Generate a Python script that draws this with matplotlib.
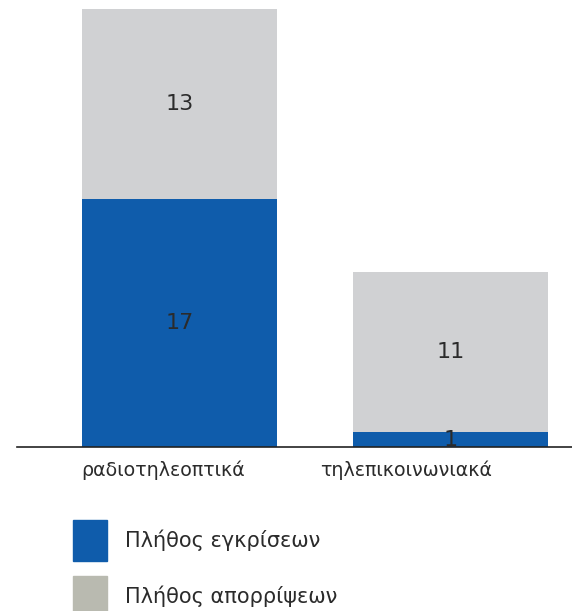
import matplotlib
matplotlib.use('Agg')
import matplotlib.pyplot as plt
import matplotlib.patches as mpatches
from matplotlib.transforms import ScaledTranslation

# Данные
categories = ['ραδιοτηλεοπτικά', 'τηλεπικοινωνιακά']
approved = [17, 1]
rejected = [13, 11]
series_names = ['Πλήθος εγκρίσεων', 'Πλήθος απορρίψεων']

blue = '#0f5cab'
grey = '#d0d1d3'
legend_grey = '#b9bab0'
text_col = '#2b2b2b'

fig = plt.figure(figsize=(5.72, 6.11), dpi=100)
ax = fig.add_axes([17 / 572, 164 / 611, 555 / 572, 438 / 611])

x = range(len(categories))
ax.bar(x, approved, width=0.72, color=blue)
ax.bar(x, rejected, width=0.72, bottom=approved, color=grey)

# Подписи значений
for i in x:
    ax.text(i, approved[i] / 2, str(approved[i]), ha='center', va='center',
            fontsize=16, color=text_col)
    ax.text(i, approved[i] + rejected[i] / 2, str(rejected[i]), ha='center',
            va='center', fontsize=16, color=text_col)

ax.set_xlim(-0.5996, 1.448)
ax.set_ylim(0, 30)
ax.set_xticks(list(x))
ax.set_xticklabels(categories, fontsize=13.7, color=text_col)
ax.tick_params(axis='x', length=0, pad=10)
# подписи категорий в оригинале сдвинуты влево
for lbl, dx in zip(ax.get_xticklabels(), [-16, -44]):
    lbl.set_transform(lbl.get_transform() + ScaledTranslation(dx / 100, 0, fig.dpi_scale_trans))
ax.set_yticks([])
for side in ['top', 'right', 'left']:
    ax.spines[side].set_visible(False)
ax.spines['bottom'].set_color('#222222')
ax.spines['bottom'].set_linewidth(1.2)

handles = [mpatches.Patch(color=blue), mpatches.Patch(color=legend_grey)]
fig.legend(handles, series_names, loc='upper left',
           bbox_to_anchor=(73 / 572, (611 - 520) / 611), frameon=False,
           fontsize=15, handlelength=1.63, handleheight=2.65,
           labelspacing=0.72, handletextpad=0.85, borderpad=0,
           borderaxespad=0, labelcolor=text_col)

fig.savefig('out.png', dpi=100)
